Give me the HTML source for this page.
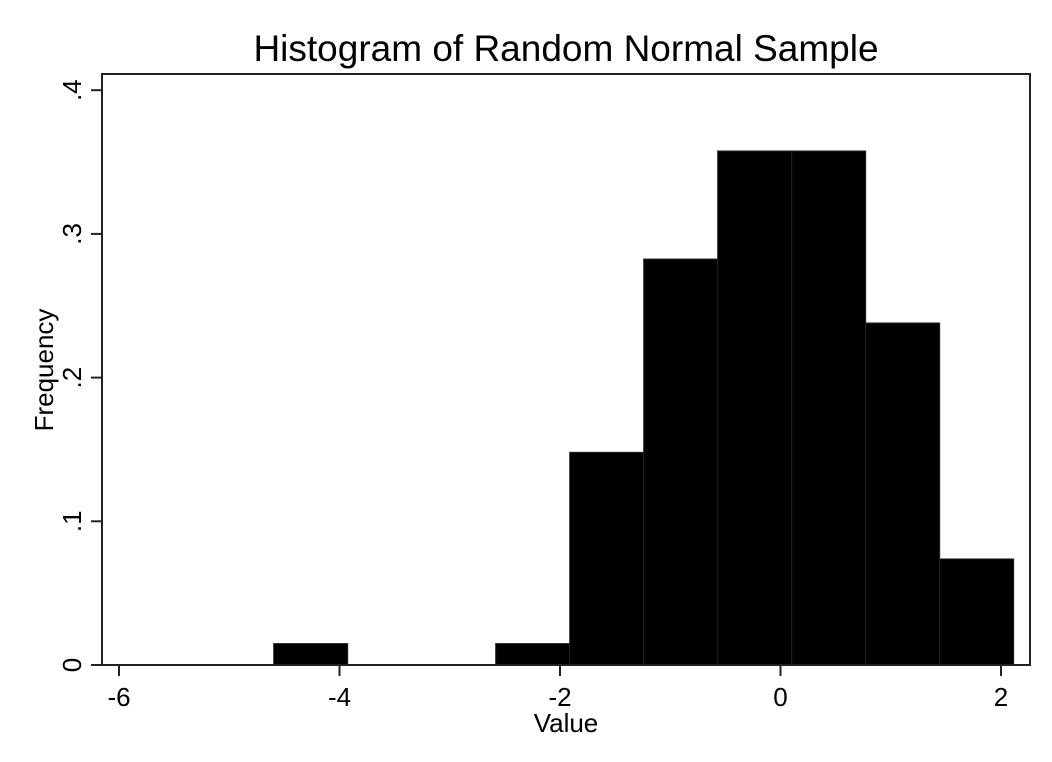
<!DOCTYPE html>
<html><head><meta charset="utf-8"><style>
body{margin:0;background:#fff;}
text{font-family:"Liberation Sans",Arial,sans-serif;fill:#000;}
</style></head><body>
<svg id="chart" width="1052" height="757" viewBox="0 0 1052 757" xmlns="http://www.w3.org/2000/svg">
<rect width="1052" height="757" fill="#fff"/>
<text x="566" y="61" font-size="37" text-anchor="middle">Histogram of Random Normal Sample</text>
<g id="bars"></g>
<rect x="102" y="74" width="928" height="591" fill="none" stroke="#222" stroke-width="2"/>
<g id="axes"></g>
<text x="566" y="732" font-size="26" text-anchor="middle">Value</text>
<text transform="translate(53,370) rotate(-90)" font-size="26" text-anchor="middle">Frequency</text>
</svg>
<script>
const binStart = -4.597;
const binWidth = 0.6712;
const binValues = [0.0149, 0, 0, 0.0149, 0.148, 0.2825, 0.3577, 0.3577, 0.238, 0.0738];
const xTicks = [-6, -4, -2, 0, 2];
const xTickLabels = ["-6", "-4", "-2", "0", "2"];
const yTicks = [0, 0.1, 0.2, 0.3, 0.4];
const yTickLabels = ["0", ".1", ".2", ".3", ".4"];

const NS = "http://www.w3.org/2000/svg";
function xs(v){ return 119 + (v + 6) * 110.25; }
function ys(v){ return 665 - v * 1437; }
const bars = document.getElementById('bars');
binValues.forEach((v, i) => {
  if (v <= 0) return;
  const x0 = xs(binStart + i * binWidth), x1 = xs(binStart + (i + 1) * binWidth);
  const r = document.createElementNS(NS, 'rect');
  r.setAttribute('x', x0); r.setAttribute('y', ys(v));
  r.setAttribute('width', x1 - x0); r.setAttribute('height', ys(0) - ys(v));
  r.setAttribute('fill', '#000'); r.setAttribute('stroke', '#222'); r.setAttribute('stroke-width', '1');
  
  
  bars.appendChild(r);
});
const axes = document.getElementById('axes');
xTicks.forEach((t, i) => {
  const l = document.createElementNS(NS, 'line');
  l.setAttribute('x1', xs(t)); l.setAttribute('x2', xs(t));
  l.setAttribute('y1', 665); l.setAttribute('y2', 676);
  l.setAttribute('stroke', '#222'); l.setAttribute('stroke-width', '2');
  
  
  axes.appendChild(l);
  const tx = document.createElementNS(NS, 'text');
  tx.setAttribute('x', xs(t)); tx.setAttribute('y', 706);
  tx.setAttribute('font-size', '26'); tx.setAttribute('text-anchor', 'middle');
  tx.textContent = xTickLabels[i];
  
  
  axes.appendChild(tx);
});
yTicks.forEach((t, i) => {
  const l = document.createElementNS(NS, 'line');
  l.setAttribute('x1', 91); l.setAttribute('x2', 102);
  l.setAttribute('y1', ys(t)); l.setAttribute('y2', ys(t));
  l.setAttribute('stroke', '#222'); l.setAttribute('stroke-width', '2');
  
  
  axes.appendChild(l);
  const tx = document.createElementNS(NS, 'text');
  tx.setAttribute('transform', 'translate(81,' + ys(t) + ') rotate(-90)');
  tx.setAttribute('font-size', '26'); tx.setAttribute('text-anchor', 'middle');
  tx.textContent = yTickLabels[i];
  
  
  axes.appendChild(tx);
});
</script>
</body></html>
